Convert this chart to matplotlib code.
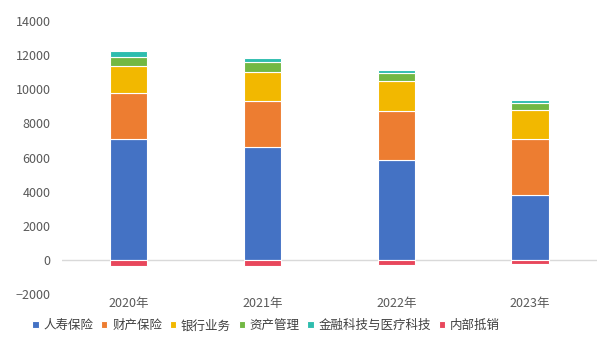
import numpy as np
import matplotlib
matplotlib.use("Agg")
import matplotlib.pyplot as plt

plt.rcParams['font.family'] = ['Noto Sans CJK SC', 'DejaVu Sans']

years = ["2020年", "2021年", "2022年", "2023年"]
segments = ["人寿保险", "财产保险", "银行业务", "资产管理", "金融科技与医疗科技", "内部抵销"]
life = [7090, 6610, 5870, 3830]
property_ins = [2720, 2720, 2840, 3265]
banking = [1560, 1690, 1800, 1690]
asset_mgmt = [540, 600, 430, 405]
fintech = [330, 195, 175, 176]
offset = [-330, -340, -280, -260]

colors = ["#4472C4", "#ED7D31", "#F2B800", "#72B843", "#2EBDAE", "#E8475C"]

fig = plt.figure(figsize=(6.06, 3.56), dpi=100)
ax = fig.add_axes([0.102, 0.174, 0.883, 0.767])

x = np.arange(len(years))
w = 0.28
bottom = np.zeros(len(years))
for vals, name, c in zip([life, property_ins, banking, asset_mgmt, fintech],
                         segments[:5], colors[:5]):
    ax.bar(x, vals, w, bottom=bottom, color=c, edgecolor="white",
           linewidth=0.8, label=name, zorder=3)
    bottom += np.array(vals)
ax.bar(x, offset, w, color=colors[5], edgecolor="white", linewidth=0.8,
       label=segments[5], zorder=3)

ax.axhline(0, color="#d9d9d9", linewidth=1, zorder=2)
ax.set_xlim(-0.5, 3.5)
ax.set_ylim(-2000, 14000)
ax.set_yticks(np.arange(-2000, 14001, 2000))
ax.set_xticks(x)
ax.set_xticklabels(years)
for s in ax.spines.values():
    s.set_visible(False)
ax.tick_params(length=0, labelsize=9, colors="#595959", pad=8)
ax.tick_params(axis="x", pad=2)

fig.legend(loc="center", bbox_to_anchor=(0.439, 0.085), ncol=6, frameon=False,
           fontsize=9, handlelength=0.5, handleheight=0.5,
           handletextpad=0.4, columnspacing=0.6, labelcolor="#404040")

fig.savefig("out.png", dpi=100, facecolor="white")
